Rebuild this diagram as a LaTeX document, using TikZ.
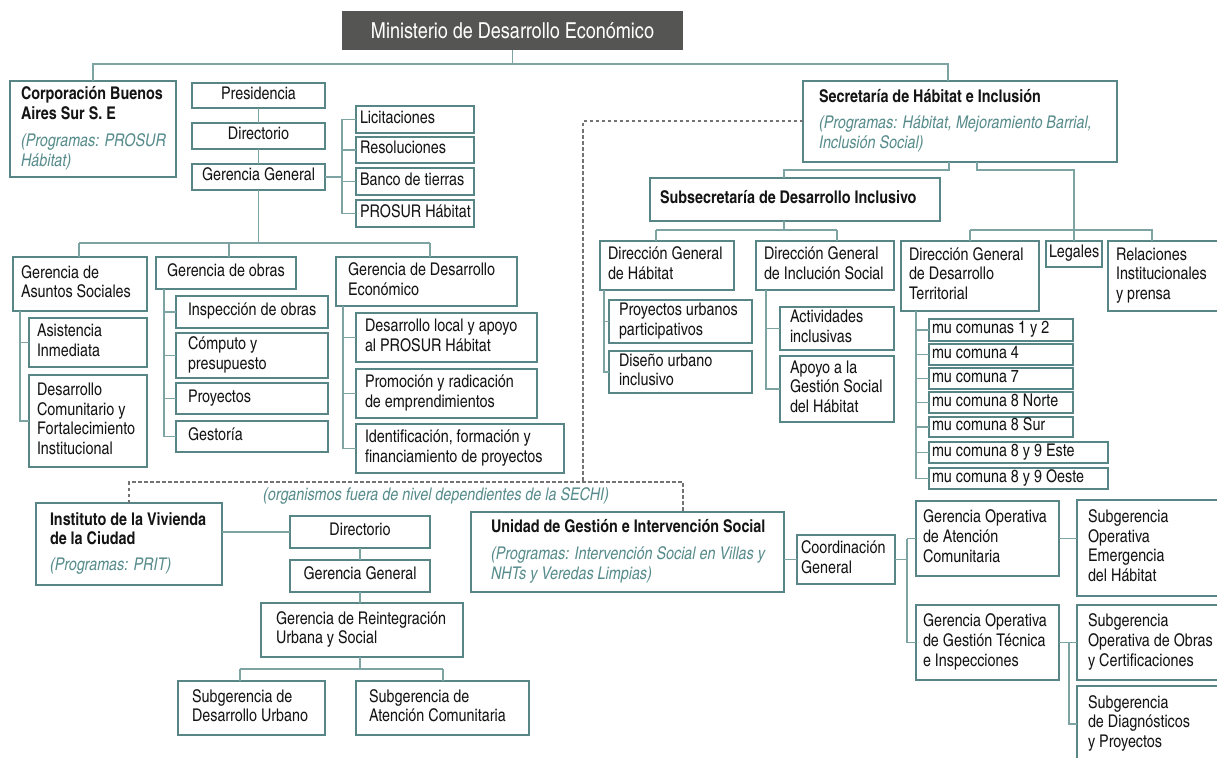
\documentclass[tikz,border=0pt]{standalone}
\usepackage{fontspec}
\setmainfont{texgyreheroscn}[Extension=.otf,UprightFont=*-regular,BoldFont=*-bold,ItalicFont=*-italic,BoldItalicFont=*-bolditalic]
\usetikzlibrary{shadows}
\definecolor{boxc}{RGB}{88,134,134}
\definecolor{connc}{RGB}{125,163,163}
\definecolor{tealt}{RGB}{88,140,140}
\definecolor{txt}{RGB}{20,20,20}
\definecolor{shd}{RGB}{190,190,190}
\definecolor{dashc}{RGB}{115,115,115}
\definecolor{minif}{RGB}{85,85,83}
\newcommand\fs{\fontsize{17.5}{19.7}\selectfont}
\newcommand\pg[1]{{\color{tealt}\itshape #1}}
\newcommand\bd[1]{\textbf{#1}}
\newcommand\obox[8][10]{%
 \pgfmathsetmacro\obw{#5-#3}%
 \pgfmathsetmacro\obh{#6-#4}%
 \pgfmathsetmacro\obt{#5-#3-2*#1}%
 \node[box,inner xsep=#1pt,minimum width=\obw pt,minimum height=\obh pt,#7] (#2) at (#3,#4) {\makebox[\obt pt][l]{\begin{tabular}{@{}l@{}}#8\end{tabular}}};}
\newcommand\oboxc[7]{%
 \pgfmathsetmacro\obw{#4-#2}%
 \pgfmathsetmacro\obh{#5-#3}%
 \node[box,inner xsep=0pt,minimum width=\obw pt,minimum height=\obh pt,#6] (#1) at (#2,#3) {\begin{tabular}{@{}c@{}}#7\end{tabular}};}
\tikzset{
 box/.style={draw=boxc,line width=1.1pt,fill=white,anchor=north west,outer sep=0pt,inner ysep=0pt,font=\fs,text=txt,
   drop shadow={shadow xshift=1.3pt,shadow yshift=-1.3pt,fill=shd,opacity=1}},
 conn/.style={draw=connc,line width=1.3pt},
 dashedline/.style={draw=dashc,line width=1.1pt,dash pattern=on 3.5pt off 2.5pt},
}
\begin{document}
\begin{tikzpicture}[x=1pt,y=-1pt]
\useasboundingbox (0,0) rectangle (1217,757);
\clip (0,0) rectangle (1217,757);
% ---------- top
\node[fill=minif,text=white,font=\fontsize{22}{24}\selectfont,minimum width=341pt,minimum height=39pt,anchor=north west,inner sep=0pt,outer sep=0pt] (mini) at (342,11) {Ministerio de Desarrollo Económico};
% ---------- Corporacion
\obox[11]{corp}{10}{81}{176}{177}{}{\bd{Corporación Buenos}\\\bd{Aires Sur S. E}\\[8pt]\pg{(Programas: PROSUR}\\\pg{Hábitat)}}
\oboxc{pres}{192}{83}{325}{108}{}{Presidencia}
\oboxc{dir}{192}{123}{325}{149}{}{Directorio}
\oboxc{gg}{192}{164}{325}{190}{}{Gerencia General}
\obox[4]{lic}{356}{106}{474}{133}{}{Licitaciones}
\obox[4]{res}{356}{137}{474}{163}{}{Resoluciones}
\obox[4]{ban}{356}{168}{474}{195}{}{Banco de tierras}
\obox[4]{pro}{356}{200}{474}{227}{}{PROSUR Hábitat}
\obox[8]{gas}{13}{257}{147}{311}{}{Gerencia de\\Asuntos Sociales}
\obox[11]{gob}{156}{257}{296}{289}{}{Gerencia de obras}
\obox[12]{gde}{336}{257}{517}{306}{}{Gerencia de Desarrollo\\Económico}
\obox[8]{asi}{29}{318}{147}{367}{}{Asistencia\\Inmediata}
\obox[8]{dco}{29}{375}{147}{467}{}{Desarrollo\\Comunitario y\\Fortalecimiento\\Institucional}
\obox[12]{ins}{176}{296}{328}{328}{}{Inspección de obras}
\obox[12]{com}{176}{333}{328}{378}{}{Cómputo y\\presupuesto}
\obox[12]{pry}{176}{383}{328}{414}{}{Proyectos}
\obox[12]{ges}{176}{421}{328}{452}{}{Gestoría}
\obox[9]{dlo}{356}{313}{537}{362}{}{Desarrollo local y apoyo\\al PROSUR Hábitat}
\obox[9]{prm}{356}{369}{537}{418}{}{Promoción y radicación\\de emprendimientos}
\obox[9]{ide}{356}{424}{564}{473}{}{Identificación, formación y\\financiamiento de proyectos}
% ---------- Secretaria
\obox[16]{sec}{803}{81}{1117}{162}{}{\bd{Secretaría de Hábitat e Inclusión}\\[7pt]\pg{(Programas: Hábitat, Mejoramiento Barrial,}\\\pg{Inclusión Social)}}
\obox[10]{sub}{650}{178}{940}{221}{}{\bd{Subsecretaría de Desarrollo Inclusivo}}
\obox[8]{dgh}{600}{241}{734}{290}{}{Dirección General\\de Hábitat}
\obox[8]{dgi}{756}{241}{894}{290}{}{Dirección General\\de Inclución Social}
\obox[8]{dgt}{901}{241}{1039}{311}{}{Dirección General\\de Desarrollo\\Territorial}
\obox[3]{leg}{1046}{241}{1102}{267}{}{Legales}
\obox[8]{rel}{1108}{241}{1240}{311}{}{Relaciones\\Institucionales\\y prensa}
\obox[10]{pup}{609}{300}{752}{343}{}{Proyectos urbanos\\participativos}
\obox[10]{dui}{609}{351}{752}{393}{}{Diseño urbano\\inclusivo}
\obox[10]{act}{780}{307}{894}{350}{}{Actividades\\inclusivas}
\obox[10]{apo}{780}{356}{894}{422}{}{Apoyo a la\\Gestión Social\\del Hábitat}
\obox[3]{m1}{929}{319}{1073}{341}{}{mu comunas 1 y 2}
\obox[3]{m2}{929}{344}{1073}{365}{}{mu comuna 4}
\obox[3]{m3}{929}{368}{1073}{389}{}{mu comuna 7}
\obox[3]{m4}{929}{392}{1073}{413}{}{mu comuna 8 Norte}
\obox[3]{m5}{929}{417}{1073}{437}{}{mu comuna 8 Sur}
\obox[3]{m6}{929}{442}{1108}{463}{}{mu comuna 8 y 9 Este}
\obox[3]{m7}{929}{468}{1108}{489}{}{mu comuna 8 y 9 Oeste}
% ---------- bottom left: Instituto
\obox[14]{ivc}{36}{503}{222}{585}{}{\bd{Instituto de la Vivienda}\\\bd{de la Ciudad}\\[6pt]\pg{(Programas: PRIT)}}
\oboxc{idir}{290}{516}{430}{548}{}{Directorio}
\oboxc{igg}{290}{560}{430}{592}{}{Gerencia General}
\obox[15]{igr}{261}{603}{463}{657}{}{Gerencia de Reintegración\\Urbana y Social}
\obox[14]{isu}{178}{681}{325}{735}{}{Subgerencia de\\Desarrollo Urbano}
\obox[13]{isa}{356}{681}{529}{735}{}{Subgerencia de\\Atención Comunitaria}
% ---------- Unidad
\obox[20]{ugi}{471}{512}{784}{592}{}{\bd{Unidad de Gestión e Intervención Social}\\[7pt]\pg{(Programas: Intervención Social en Villas y}\\\pg{NHTs y Veredas Limpias)}}
\obox[4]{coord}{797}{535}{895}{584}{}{Coordinación\\General}
\obox[7]{goa}{916}{501}{1059}{576}{}{Gerencia Operativa\\de Atención\\Comunitaria}
\obox[7]{gog}{916}{605}{1059}{680}{}{Gerencia Operativa\\de Gestión Técnica\\e Inspecciones}
\obox[11]{soe}{1077}{500}{1240}{596}{}{Subgerencia\\Operativa\\Emergencia\\del Hábitat}
\obox[11]{soo}{1077}{605}{1240}{680}{}{Subgerencia\\Operativa de Obras\\y Certificaciones}
\obox[11]{sdp}{1077}{686}{1240}{762}{}{Subgerencia\\de Diagnósticos\\y Proyectos}
% ---------- label
\node[font=\fs\itshape,text=tealt,inner sep=0pt] (lbl) at (436,496) {(organismos fuera de nivel dependientes de la SECHI)};
% ---------- coordinates
\coordinate (hy) at (0,64);
\coordinate (secin) at (948,0);
\coordinate (b1) at (342,0);
\coordinate (h2) at (0,243);
\coordinate (d1) at (79,0);
\coordinate (d2) at (229,0);
\coordinate (d3) at (430,0);
\coordinate (b2) at (20,0);
\coordinate (b3) at (164,0);
\coordinate (b4) at (343,0);
\coordinate (s1) at (949,0);
\coordinate (s2) at (977,0);
\coordinate (s3) at (784,0);
\coordinate (hy2) at (0,170);
\coordinate (hy3) at (0,230);
\coordinate (r1) at (1152,0);
\coordinate (u1) at (656,0);
\coordinate (u2) at (837,0);
\coordinate (b5) at (604,0);
\coordinate (b6) at (766,0);
\coordinate (b7) at (916,0);
\coordinate (dx1) at (583,0);
\coordinate (dx2) at (683,0);
\coordinate (dy0) at (0,121);
\coordinate (dy) at (0,482);
\coordinate (hy4) at (0,669);
\coordinate (i1) at (240,0);
\coordinate (i2) at (443,0);
\coordinate (b8) at (907,0);
\coordinate (b9) at (1069,0);
% ---------- connectors
\draw[conn] (mini.south) -- (mini.south |- hy);
\draw[conn] (corp.north) -- (corp.north |- hy) -- (secin |- hy) -- (secin |- sec.north);
\draw[conn] (pres) -- (dir);
\draw[conn] (dir) -- (gg);
\draw[conn] (gg.east) -- (gg.east -| b1);
\draw[conn] (lic.west -| b1) -- (pro.west -| b1);
\foreach \n in {lic,res,ban,pro} \draw[conn] (\n.west -| b1) -- (\n.west);
\draw[conn] (gg.south) -- (gg.south |- h2);
\draw[conn] (d1 |- h2) -- (d3 |- h2);
\draw[conn] (d1 |- h2) -- (d1 |- gas.north);
\draw[conn] (d2 |- h2) -- (d2 |- gob.north);
\draw[conn] (d3 |- h2) -- (d3 |- gde.north);
\draw[conn] (gas.south -| b2) -- (dco.west -| b2) -- (dco.west);
\draw[conn] (asi.west -| b2) -- (asi.west);
\draw[conn] (gob.south -| b3) -- (ges.west -| b3) -- (ges.west);
\foreach \n in {ins,com,pry} \draw[conn] (\n.west -| b3) -- (\n.west);
\draw[conn] (gde.south -| b4) -- (ide.west -| b4) -- (ide.west);
\foreach \n in {dlo,prm} \draw[conn] (\n.west -| b4) -- (\n.west);
% secretaria
\draw[conn] (s1 |- sec.south) -- (s1 |- hy2) -- (s3 |- hy2) -- (s3 |- sub.north);
\draw[conn] (s2 |- sec.south) -- (s2 |- hy2) -- (leg.north |- hy2) -- (leg.north);
\draw[conn] (dgt.north |- hy3) -- (r1 |- hy3) -- (r1 |- rel.north);
\draw[conn] (dgt.north |- hy3) -- (dgt.north);
\draw[conn] (s3 |- sub.south) -- (s3 |- hy3);
\draw[conn] (u1 |- hy3) -- (u2 |- hy3);
\draw[conn] (u1 |- hy3) -- (u1 |- dgh.north);
\draw[conn] (u2 |- hy3) -- (u2 |- dgi.north);
\draw[conn] (dgh.south -| b5) -- (dui.west -| b5) -- (dui.west);
\draw[conn] (pup.west -| b5) -- (pup.west);
\draw[conn] (dgi.south -| b6) -- (apo.west -| b6) -- (apo.west);
\draw[conn] (act.west -| b6) -- (act.west);
\draw[conn] (dgt.south -| b7) -- (m7.west -| b7) -- (m7.west);
\foreach \n in {m1,m2,m3,m4,m5,m6} \draw[conn] (\n.west -| b7) -- (\n.west);
% dashed
\draw[dashedline] (sec.west |- dy0) -- (dx1 |- dy0) -- (dx1 |- dy);
\draw[dashedline] (ivc.north) -- (ivc.north |- dy) -- (dx2 |- dy) -- (dx2 |- ugi.north);
% instituto
\draw[conn] (idir.west) -- (idir.west -| ivc.east);
\draw[conn] (idir) -- (igg);
\draw[conn] (igg.south) -- (igg.south |- igr.north);
\draw[conn] (igg.south |- igr.south) -- (igg.south |- hy4);
\draw[conn] (i1 |- hy4) -- (i2 |- hy4);
\draw[conn] (i1 |- hy4) -- (i1 |- isu.north);
\draw[conn] (i2 |- hy4) -- (i2 |- isa.north);
% unidad
\draw[conn] (coord.west) -- (coord.west -| ugi.east);
\draw[conn] (coord.east) -- (coord.east -| b8);
\draw[conn] (b8 |- goa.west) -- (b8 |- gog.west);
\draw[conn] (b8 |- goa.west) -- (goa.west);
\draw[conn] (b8 |- gog.west) -- (gog.west);
\draw[conn] (goa.east) -- (goa.east -| soe.west);
\draw[conn] (gog.east) -- (gog.east -| soo.west);
\draw[conn] (gog.east -| b9) -- (b9 |- sdp.west) -- (sdp.west);
\end{tikzpicture}
\end{document}
